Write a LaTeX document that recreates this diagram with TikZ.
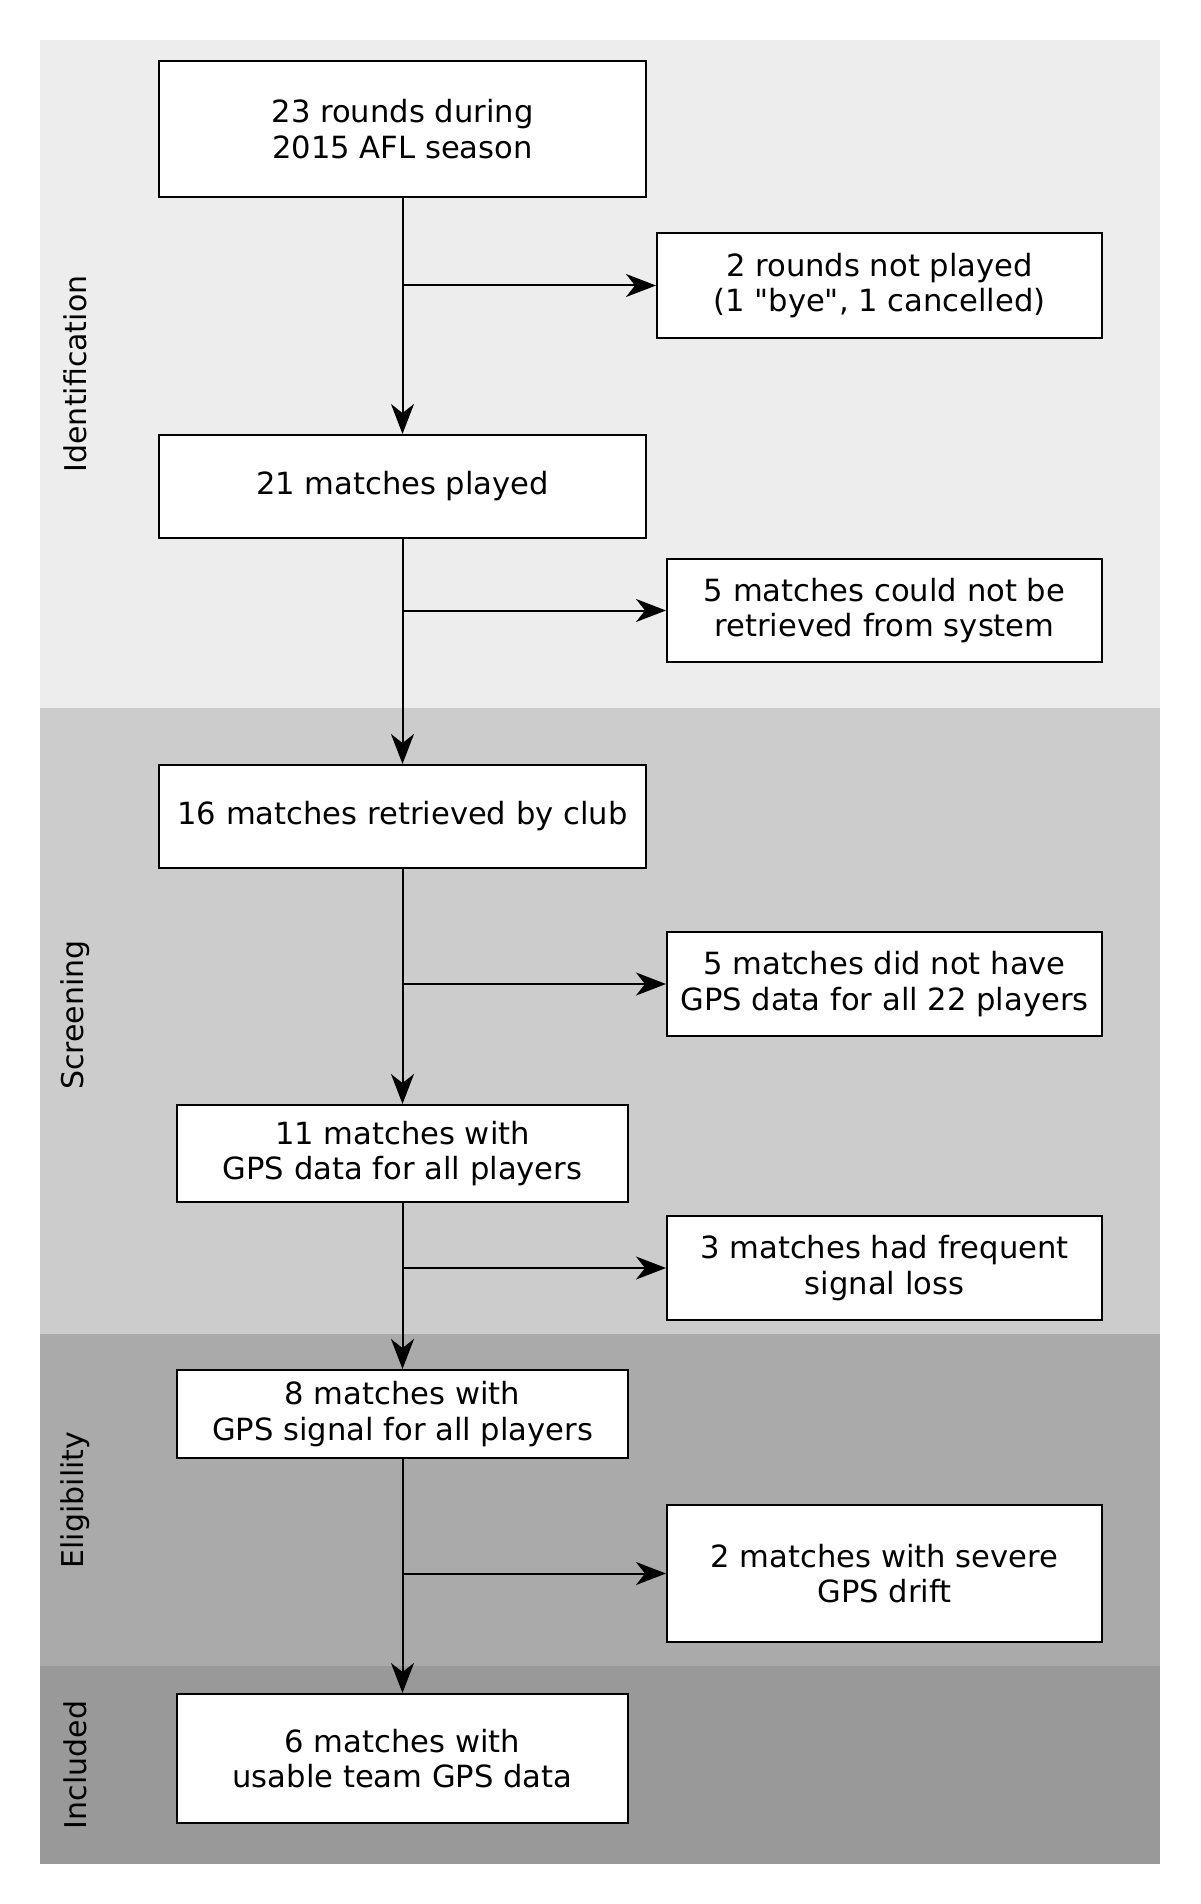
\documentclass[tikz,border=0pt]{standalone}
\usepackage{fontspec}
\setmainfont{DejaVu Sans}[Ligatures=TeXOff]
\usetikzlibrary{arrows.meta}
\begin{document}
\begin{tikzpicture}[x=0.5pt,y=-0.5pt,
  stepbox/.style={draw=black,line width=1pt,fill=white,align=center,inner sep=2pt,
    font=\fontsize{15.3}{17.6}\selectfont},
  flow/.style={line width=1pt,-{Stealth[length=15pt,width=11.5pt,inset=4.5pt]}},
  band/.style={rotate=90,font=\fontsize{15}{17}\selectfont}]
\useasboundingbox (0,0) rectangle (1200,1904);
\fill[fill={rgb,255:red,237;green,237;blue,237}] (40,40) rectangle (1160,708);
\fill[fill={rgb,255:red,204;green,204;blue,204}] (40,708) rectangle (1160,1334);
\fill[fill={rgb,255:red,170;green,170;blue,170}] (40,1334) rectangle (1160,1666);
\fill[fill={rgb,255:red,153;green,153;blue,153}] (40,1666) rectangle (1160,1864);
\node[band] (lid) at (75,374) {Identification};
\node[band] (lsc) at (75,1015) {Screening};
\node[band] (lel) at (75,1500) {Eligibility};
\node[band] (lin) at (75,1765) {Included};

\node[stepbox,minimum width=243.5pt,minimum height=68pt] (b1) at (402.5,129) {23 rounds during\\2015 AFL season};
\node[stepbox,minimum width=222.5pt,minimum height=52.5pt] (r1) at (879.5,285.5) {2 rounds not played\\(1 "bye", 1 cancelled)};
\node[stepbox,minimum width=243.5pt,minimum height=51.5pt] (b2) at (402.5,486.5) {21 matches played};
\node[stepbox,minimum width=217.5pt,minimum height=51.5pt] (r2) at (884.5,610.5) {5 matches could not be\\retrieved from system};
\node[stepbox,minimum width=243.5pt,minimum height=51.5pt] (b3) at (402.5,816.5) {16 matches retrieved by club};
\node[stepbox,minimum width=217.5pt,minimum height=52pt] (r3) at (884.5,984) {5 matches did not have\\GPS data for all 22 players};
\node[stepbox,minimum width=225.5pt,minimum height=48.5pt] (b4) at (402.5,1153.5) {11 matches with\\GPS data for all players};
\node[stepbox,minimum width=217.5pt,minimum height=52pt] (r4) at (884.5,1268) {3 matches had frequent\\signal loss};
\node[stepbox,minimum width=225.5pt,minimum height=44pt] (b5) at (402.5,1414) {8 matches with\\GPS signal for all players};
\node[stepbox,minimum width=217.5pt,minimum height=68.5pt] (r5) at (884.5,1573.5) {2 matches with severe\\GPS drift};
\node[stepbox,minimum width=225.5pt,minimum height=64.5pt] (b6) at (402.5,1758.5) {6 matches with\\usable team GPS data};

\draw[flow] (b1.south) -- (b2.north);
\draw[flow] (b1.south |- r1.west) -- (r1.west);
\draw[flow] (b2.south) -- (b3.north);
\draw[flow] (b2.south |- r2.west) -- (r2.west);
\draw[flow] (b3.south) -- (b4.north);
\draw[flow] (b3.south |- r3.west) -- (r3.west);
\draw[flow] (b4.south) -- (b5.north);
\draw[flow] (b4.south |- r4.west) -- (r4.west);
\draw[flow] (b5.south) -- (b6.north);
\draw[flow] (b5.south |- r5.west) -- (r5.west);
\end{tikzpicture}
\end{document}
